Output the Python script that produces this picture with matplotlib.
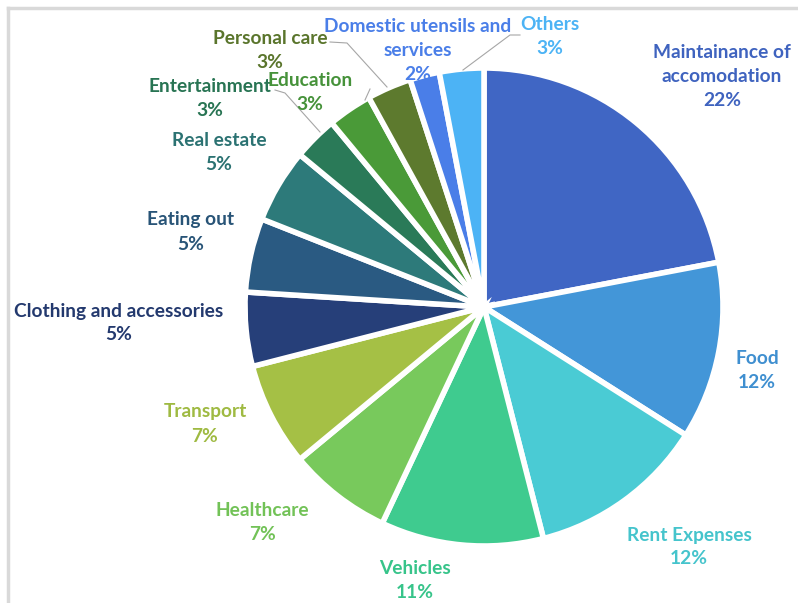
import matplotlib
matplotlib.use("Agg")
import matplotlib.pyplot as plt
from matplotlib.lines import Line2D

categories = ["Maintainance of\naccomodation", "Food", "Rent Expenses", "Vehicles",
              "Healthcare", "Transport", "Clothing and accessories", "Eating out",
              "Real estate", "Entertainment", "Education", "Personal care",
              "Domestic utensils and\nservices", "Others"]
shares = [22, 12, 12, 11, 7, 7, 5, 5, 5, 3, 3, 3, 2, 3]
colors = ["#4066c4", "#4396d8", "#4acbd4", "#3fcb8f", "#78c95c", "#a5c045",
          "#263f79", "#2a5a82", "#2d7a7a", "#2a7a58", "#4a9a38", "#5d7a2e",
          "#4a7ee8", "#4cb3f5"]

# label anchor (pixel x, pixel y from top) for each slice
label_pos = [(722, 77), (757, 371), (689, 547), (415, 580), (262, 522),
             (205, 424), (119, 323), (191, 232), (219, 153), (210, 99),
             (310, 93), (270, 51), (418, 50), (550, 37)]
label_color = ["#3f63bf", "#3f8fd0", "#45c4cc", "#37c48a", "#72c257", "#9fba42",
               "#23396e", "#285477", "#2b7272", "#287453", "#46923a", "#5a752c",
               "#4a7ee8", "#4cb3f5"]
# leader lines, pixel coords
leaders = [[(330, 42), (347, 43), (387, 87)],
           [(275, 90), (285, 93), (320, 132)],
           [(370, 89), (365, 100)],
           [(520, 35), (510, 35), (463, 70)]]

W, H = 798, 603
fig = plt.figure(figsize=(W / 100, H / 100), dpi=100)
ax = fig.add_axes([0, 0, 1, 1])

ax.pie(shares, colors=colors, startangle=90, counterclock=False,
       center=(484, H - 307), radius=239, frame=True,
       wedgeprops=dict(edgecolor="white", linewidth=4))
ax.set_xlim(0, W)
ax.set_ylim(0, H)
ax.set_aspect("equal")
ax.axis("off")

for name, val, (px, py), c in zip(categories, shares, label_pos, label_color):
    ax.text(px, H - py, f"{name}\n{val}%", ha="center", va="center",
            color=c, fontsize=13.8, fontweight="bold", family="Lato",
            linespacing=1.5)

for pts in leaders:
    ax.add_line(Line2D([p[0] for p in pts], [H - p[1] for p in pts],
                       color="#a6a6a6", linewidth=0.8))

# chart frame
fig.add_artist(Line2D([8 / W, 1], [1 - 8 / H, 1 - 8 / H], color="#d9d9d9", linewidth=2.5))
fig.add_artist(Line2D([8 / W, 8 / W], [0, 1 - 8 / H], color="#d9d9d9", linewidth=2.5))

fig.savefig("out.png", dpi=100)
